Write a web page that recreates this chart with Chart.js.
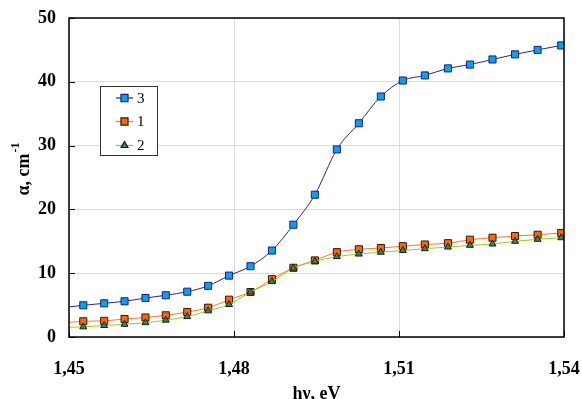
<!DOCTYPE html>
<html>
<head>
<meta charset="utf-8">
<script src="https://cdn.jsdelivr.net/npm/chart.js@4/dist/chart.umd.min.js"></script>
<style>
  html, body { margin: 0; padding: 0; background: #fff; }
  #wrap { width: 582px; height: 399px; position: relative; }
</style>
</head>
<body>
<div id="wrap"><canvas id="c"></canvas></div>
<script>
// photon energy, eV (first and last entries are where the curves meet the frame)
const energy = [1.4488, 1.4526, 1.4564, 1.4601, 1.4639, 1.4676, 1.4715, 1.4753, 1.4791, 1.4830,
  1.4869, 1.4908, 1.4947, 1.4987, 1.5027, 1.5067, 1.5107, 1.5147, 1.5189, 1.5229,
  1.5270, 1.5311, 1.5352, 1.5395, 1.5433];
// absorption coefficient, cm^-1
const alpha3 = [4.6, 4.97, 5.28, 5.6, 6.11, 6.54, 7.1, 8.02, 9.62, 11.1,
  13.55, 17.6, 22.3, 29.4, 33.5, 37.7, 40.2, 41.0, 42.1, 42.7,
  43.5, 44.3, 45.0, 45.7, 46.3];
const alpha1 = [2.2, 2.46, 2.53, 2.82, 3.06, 3.4, 3.92, 4.59, 5.85, 7.05,
  9.06, 10.85, 12.0, 13.3, 13.75, 13.95, 14.23, 14.5, 14.7, 15.25,
  15.56, 15.83, 16.03, 16.3, 16.5];
const alpha2 = [1.5, 1.59, 1.8, 1.99, 2.25, 2.64, 3.2, 4.1, 5.1, 7.05,
  8.68, 10.8, 11.85, 12.6, 13.0, 13.28, 13.56, 13.84, 14.1, 14.37,
  14.58, 15.0, 15.31, 15.56, 15.8];
const seriesLabels = ["3", "1", "2"];
const xTicks = [1.45, 1.48, 1.51, 1.54];
const yTicks = [0, 10, 20, 30, 40, 50];

const SERIF = "'Liberation Serif', 'Times New Roman', serif";

function toPoints(ys) {
  return energy.map((x, i) => ({ x, y: ys[i] }));
}

// frame, inward tick marks, y title with superscript, boxed legend
const decor = {
  id: "decor",
  afterDatasetsDraw(chart) {
    const { ctx, chartArea: a, scales } = chart;
    ctx.save();
    ctx.strokeStyle = "#000";
    ctx.lineWidth = 1.5;
    ctx.strokeRect(a.left, a.top, a.right - a.left, a.bottom - a.top);
    ctx.lineWidth = 1;
    ctx.beginPath();
    yTicks.forEach((v) => {
      const y = Math.round(scales.y.getPixelForValue(v)) + 0.5;
      ctx.moveTo(a.left, y);
      ctx.lineTo(a.left + 6, y);
    });
    xTicks.forEach((v) => {
      const x = Math.round(scales.x.getPixelForValue(v)) + 0.5;
      ctx.moveTo(x, a.bottom);
      ctx.lineTo(x, a.bottom - 6);
    });
    ctx.stroke();

    // y axis title: α, cm^-1
    const cy = (a.top + a.bottom) / 2 - 8;
    ctx.translate(24, cy);
    ctx.rotate(-Math.PI / 2);
    ctx.fillStyle = "#000";
    ctx.textBaseline = "middle";
    ctx.font = "bold 18px " + SERIF;
    const main = "α, cm";
    const w1 = ctx.measureText(main).width;
    ctx.font = "bold 12px " + SERIF;
    const w2 = ctx.measureText("-1").width;
    const x0 = -(w1 + w2) / 2;
    ctx.font = "bold 18px " + SERIF;
    ctx.fillText(main, x0, 0);
    ctx.font = "bold 12px " + SERIF;
    ctx.fillText("-1", x0 + w1 + 1, -8);
    ctx.restore();

    // legend box inside the plot
    ctx.save();
    const bx = a.left + 31, by = a.top + 68, bw = 57, bh = 69;
    ctx.fillStyle = "#fff";
    ctx.fillRect(bx, by, bw, bh);
    ctx.strokeStyle = "#333";
    ctx.lineWidth = 1;
    ctx.strokeRect(bx + 0.5, by + 0.5, bw, bh);
    const rows = [12, 35.5, 59.5];
    chart.data.datasets.forEach((ds, i) => {
      const y = by + rows[i];
      ctx.strokeStyle = ds.borderColor;
      ctx.lineWidth = 1.2;
      ctx.beginPath();
      ctx.moveTo(bx + 16, y);
      ctx.lineTo(bx + 33, y);
      ctx.stroke();
      ctx.fillStyle = ds.pointBackgroundColor;
      ctx.strokeStyle = ds.pointBorderColor;
      Chart.helpers.drawPoint(ctx, {
        pointStyle: ds.pointStyle, radius: ds.pointRadius, rotation: 0, borderWidth: 1
      }, bx + 24.5, y);
      ctx.fillStyle = "#000";
      ctx.font = "15px " + SERIF;
      ctx.textBaseline = "middle";
      ctx.fillText(ds.label, bx + 37, y + 1);
    });
    ctx.restore();
  },
};

new Chart(document.getElementById("c"), {
  type: "line",
  data: {
    datasets: [
      {
        label: seriesLabels[0],
        data: toPoints(alpha3),
        borderColor: "#25258f",
        borderWidth: 1,
        pointStyle: "rect",
        pointRadius: 5,
        pointBackgroundColor: "#0aa0ec",
        pointBorderColor: "#1a1a80",
        pointBorderWidth: 1,
        cubicInterpolationMode: "monotone",
        order: 2,
      },
      {
        label: seriesLabels[1],
        data: toPoints(alpha1),
        borderColor: "#ff7526",
        borderWidth: 1,
        pointStyle: "rect",
        pointRadius: 5,
        pointBackgroundColor: "#ff6600",
        pointBorderColor: "#2a1a10",
        pointBorderWidth: 1,
        cubicInterpolationMode: "monotone",
        order: 1,
      },
      {
        label: seriesLabels[2],
        data: toPoints(alpha2),
        borderColor: "#9ccc10",
        borderWidth: 1,
        pointStyle: "triangle",
        pointRadius: 4,
        pointBackgroundColor: "#2e8b57",
        pointBorderColor: "#1a1a1a",
        pointBorderWidth: 1,
        cubicInterpolationMode: "monotone",
        order: 0,
      },
    ],
  },
  options: {
    responsive: true,
    maintainAspectRatio: false,
    animation: false,
    events: [],
    layout: { padding: { left: 0, top: 18, right: 18, bottom: 0 } },
    plugins: {
      legend: { display: false },
      tooltip: { enabled: false },
    },
    scales: {
      x: {
        type: "linear",
        min: 1.45,
        max: 1.54,
        afterBuildTicks: (scale) => {
          scale.ticks = xTicks.map((value) => ({ value }));
        },
        afterFit: (scale) => {
          scale.height = 62;
          scale.paddingLeft = 0;
          scale.paddingRight = 0;
        },
        grid: { color: "#dcdcdc", lineWidth: 1, drawTicks: false },
        border: { display: false },
        ticks: {
          padding: 22,
          color: "#000",
          font: { family: SERIF, size: 18, weight: "bold" },
          callback: (v) => Number(v).toFixed(2).replace(".", ","),
        },
        title: {
          display: true,
          text: "hν, eV",
          color: "#000",
          padding: 0,
          font: { family: SERIF, size: 18, weight: "bold", lineHeight: 0.5 },
        },
      },
      y: {
        min: 0,
        max: 50,
        afterBuildTicks: (scale) => {
          scale.ticks = yTicks.map((value) => ({ value }));
        },
        afterFit: (scale) => {
          scale.width = 69;
          scale.paddingTop = 0;
          scale.paddingBottom = 0;
        },
        grid: { color: "#dcdcdc", lineWidth: 1, drawTicks: false },
        border: { display: false },
        ticks: {
          padding: 13,
          color: "#000",
          font: { family: SERIF, size: 18, weight: "bold" },
        },
      },
    },
  },
  plugins: [decor],
});
</script>
</body>
</html>
